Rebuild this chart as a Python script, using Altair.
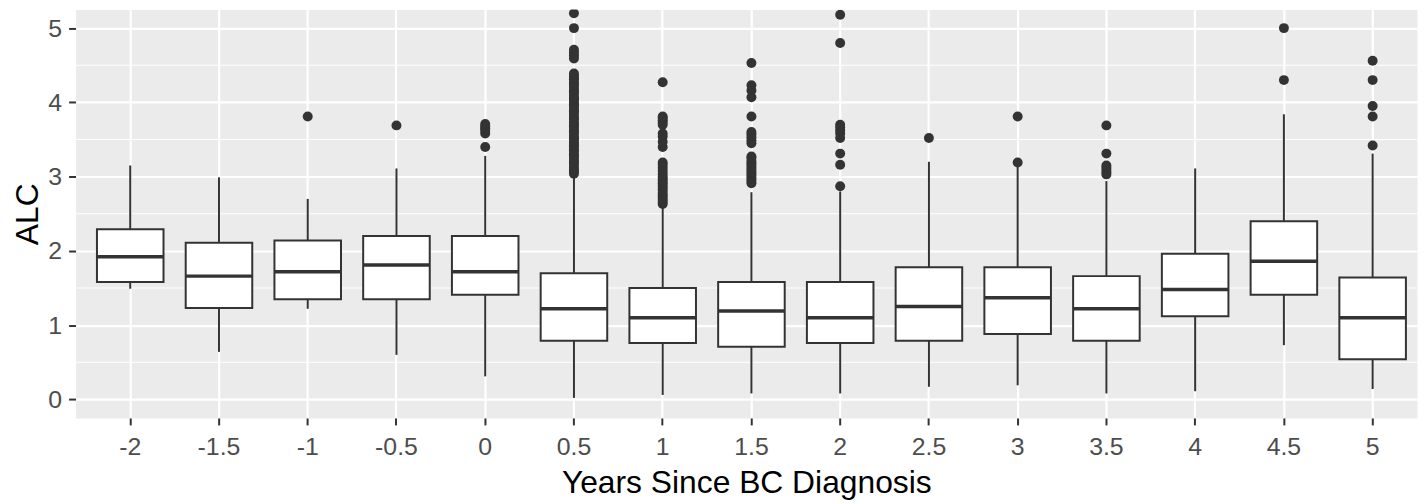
import altair as alt
import pandas as pd

# Categories (years since diagnosis)
years = ["-2", "-1.5", "-1", "-0.5", "0", "0.5", "1", "1.5", "2", "2.5", "3", "3.5", "4", "4.5", "5"]

# Box statistics
lower_whisker = [1.49, 0.64, 1.22, 0.60, 0.31, 0.02, 0.06, 0.08, 0.08, 0.17, 0.19, 0.08, 0.11, 0.73, 0.14]
q1 = [1.58, 1.23, 1.35, 1.35, 1.41, 0.79, 0.76, 0.71, 0.76, 0.79, 0.88, 0.79, 1.12, 1.41, 0.54]
median = [1.92, 1.66, 1.72, 1.81, 1.72, 1.22, 1.10, 1.19, 1.10, 1.25, 1.37, 1.22, 1.48, 1.86, 1.10]
q3 = [2.29, 2.11, 2.14, 2.20, 2.20, 1.70, 1.50, 1.58, 1.58, 1.78, 1.78, 1.66, 1.96, 2.40, 1.64]
upper_whisker = [3.15, 2.99, 2.70, 3.11, 3.28, 3.00, 2.60, 2.79, 2.80, 3.20, 3.14, 2.94, 3.11, 3.84, 3.31]

# Outliers per category
outliers = {
    "-1": [3.81],
    "-0.5": [3.69],
    "0": [3.40, 3.58, 3.62, 3.65, 3.68, 3.71],
    "0.5": [3.04, 3.07, 3.09, 3.12, 3.16, 3.19, 3.21, 3.25, 3.28, 3.30, 3.34, 3.37, 3.41, 3.43,
            3.46, 3.50, 3.52, 3.55, 3.59, 3.61, 3.64, 3.68, 3.70, 3.73, 3.77, 3.79, 3.82, 3.86,
            3.88, 3.91, 3.95, 3.97, 4.00, 4.04, 4.06, 4.09, 4.13, 4.15, 4.18, 4.22, 4.24, 4.27,
            4.31, 4.33, 4.36, 4.39, 4.59, 4.63, 4.67, 4.71, 5.00, 5.20],
    "1": [2.63, 2.66, 2.69, 2.72, 2.75, 2.78, 2.82, 2.85, 2.88, 2.91, 2.94, 2.97, 3.00, 3.04,
          3.08, 3.12, 3.16, 3.19, 3.40, 3.47, 3.54, 3.58, 3.70, 3.73, 3.76, 3.79, 3.81, 4.27],
    "1.5": [2.91, 2.94, 2.97, 3.00, 3.03, 3.06, 3.09, 3.12, 3.15, 3.18, 3.21, 3.25, 3.27,
            3.45, 3.49, 3.53, 3.57, 3.60, 3.81, 4.07, 4.16, 4.23, 4.53],
    "2": [2.87, 3.16, 3.31, 3.52, 3.58, 3.62, 3.66, 3.70, 4.80, 5.18],
    "2.5": [3.52],
    "3": [3.19, 3.81],
    "3.5": [3.03, 3.06, 3.09, 3.12, 3.15, 3.31, 3.69],
    "4.5": [4.30, 5.00],
    "5": [3.42, 3.81, 3.95, 4.30, 4.56],
}

minor_breaks = [0.5, 1.5, 2.5, 3.5, 4.5]
major_breaks = [0, 1, 2, 3, 4, 5]

stats = pd.DataFrame({
    "year": years,
    "lower": lower_whisker,
    "q1": q1,
    "median": median,
    "q3": q3,
    "upper": upper_whisker,
})

out_rows = [{"year": k, "value": v} for k, vals in outliers.items() for v in vals]
out_df = pd.DataFrame(out_rows)
minor_df = pd.DataFrame({"v": minor_breaks})

FONT = "Liberation Sans"
DARK = "#333333"

x_scale = alt.Scale(domain=years, paddingInner=0, paddingOuter=0.058, align=1)
x_axis = alt.Axis(title="Years Since BC Diagnosis", labelAngle=0, bandPosition=0.5, grid=True,
                  labelPadding=10, titlePadding=8)
y_scale = alt.Scale(domain=[-0.25, 5.25], nice=False, zero=False)
y_axis = alt.Axis(title="ALC", values=major_breaks, labelPadding=7, titlePadding=3, grid=True)


def X():
    return alt.X("year:N", sort=years, scale=x_scale, axis=x_axis)


def Y(field):
    return alt.Y(field, scale=y_scale, axis=y_axis)


minor = alt.Chart(minor_df).mark_rule(color="white", strokeWidth=1.1).encode(y=Y("v:Q"))

whisk = alt.Chart(stats).mark_rule(color=DARK, strokeWidth=2).encode(
    x=X(), y=Y("lower:Q"), y2="upper:Q")

box = alt.Chart(stats).mark_bar(fill="white", stroke=DARK, strokeWidth=2,
                                width=alt.RelativeBandSize(0.75)).encode(
    x=X(), y=Y("q1:Q"), y2="q3:Q")

med = alt.Chart(stats).mark_tick(color=DARK, size=67, thickness=3.5, opacity=1).encode(
    x=X(), y=Y("median:Q"))

pts = alt.Chart(out_df).mark_circle(color=DARK, size=100, opacity=1, clip=True).encode(
    x=X(), y=Y("value:Q"))

chart = alt.layer(minor, whisk, box, med, pts).properties(
    width=1350, height=411,
    padding={"left": 4, "top": 0, "right": 0, "bottom": 0},
).configure_view(
    fill="#EBEBEB", stroke="transparent"
).configure_axis(
    domain=False,
    tickColor=DARK, tickWidth=2, tickSize=7,
    gridColor="white", gridWidth=2.2,
    labelColor="#4D4D4D", labelFont=FONT, labelFontSize=25,
    titleFont=FONT, titleFontSize=32, titleFontWeight="normal", titleColor="black",
)

chart.save("out.html", embed_options={"renderer": "svg", "actions": False})
